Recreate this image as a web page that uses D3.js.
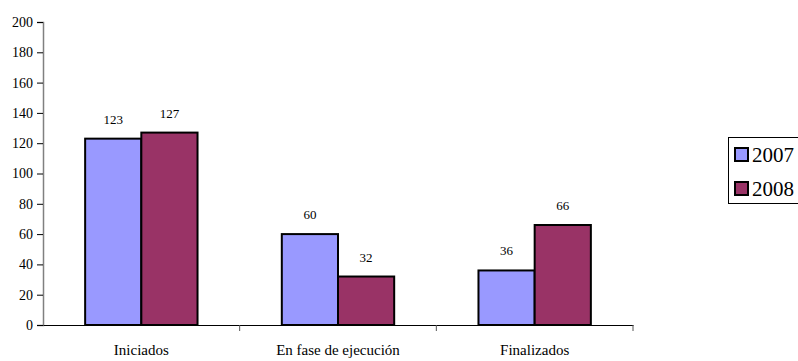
<!DOCTYPE html>
<html lang="es">
  <head>
    <meta charset="utf-8">
    <title>Proyectos 2007 - 2008</title>
    <style type="text/css">
      body{
        margin: 0;
        background: #fff;
      }
    </style>
    <script src="https://cdn.jsdelivr.net/npm/d3@7"></script>
  </head>
  <body>
    <div class="chart"></div>
    <script type="text/javascript">
      //categories on the x axis
      var categories = ["Iniciados", "En fase de ejecución", "Finalizados"];

      //series names and colours
      var series = ["2007", "2008"];
      var colors = ["#9999FF", "#993366"];

      //values per series, in category order
      var values2007 = [123, 60, 36];
      var values2008 = [127, 32, 66];

      //y axis tick labels
      var yTicks = [0, 20, 40, 60, 80, 100, 120, 140, 160, 180, 200];

      var serif = "Liberation Serif";
      var width = 798;
      var height = 361;
      var plot = {left: 43, right: 633, top: 22, bottom: 325};

      var svg = d3.select(".chart")
        .append("svg")
        .attr("width", width)
        .attr("height", height)
        .attr("font-family", serif);

      //scaler for the categories
      var x = d3.scaleBand()
        .domain(categories)
        .range([plot.left, plot.right]);

      //scaler for the bars inside each category (gap width 150%)
      var bw = x.bandwidth() / 3.5;
      var xSeries = d3.scaleBand()
        .domain(series)
        .range([0, bw * 2]);

      //scaler for the values
      var y = d3.scaleLinear()
        .domain([0, 200])
        .range([plot.bottom, plot.top]);

      //y axis
      var yAxis = svg.append("g")
        .attr("transform", `translate(${plot.left},0)`)
        .call(d3.axisLeft(y).tickValues(yTicks).tickSize(6).tickPadding(4))
        .attr("font-family", serif)
        .attr("font-size", 14);
      yAxis.select(".domain").attr("stroke", "#808080").attr("stroke-width", 1.5);
      yAxis.selectAll(".tick line").attr("stroke", "#000");
      yAxis.selectAll("text").attr("fill", "#000");

      //x axis
      var xAxis = svg.append("g")
        .attr("transform", `translate(0,${plot.bottom})`)
        .call(d3.axisBottom(x).tickSize(0).tickPadding(19).tickSizeOuter(0))
        .attr("font-family", serif)
        .attr("font-size", 15);
      xAxis.select(".domain").attr("stroke", "#000");
      xAxis.selectAll("text").attr("fill", "#000");

      //category separators on the x axis
      var seps = [x.range()[0] + x.step(), x.range()[0] + 2 * x.step(), x.range()[1]];
      svg.selectAll(".sep")
        .data(seps)
        .enter()
        .append("line")
        .attr("x1", d => d)
        .attr("x2", d => d)
        .attr("y1", plot.bottom)
        .attr("y2", plot.bottom + 6)
        .attr("stroke", "#555")
        .attr("stroke-width", 1);

      //table of bars built from the arrays
      var data = [];
      categories.forEach(function(c, i){
        data.push({cat: c, s: "2007", v: values2007[i], color: colors[0]});
        data.push({cat: c, s: "2008", v: values2008[i], color: colors[1]});
      });

      var x0 = d => x(d.cat) + (x.bandwidth() - bw * 2) / 2 + xSeries(d.s);

      //bars
      svg.selectAll(".bar")
        .data(data)
        .enter()
        .append("rect")
        .attr("class", "bar")
        .attr("x", x0)
        .attr("y", d => y(d.v))
        .attr("width", xSeries.bandwidth())
        .attr("height", d => y(0) - y(d.v))
        .attr("fill", d => d.color)
        .attr("stroke", "#000")
        .attr("stroke-width", 2);

      //value labels
      svg.selectAll(".lbl")
        .data(data)
        .enter()
        .append("text")
        .attr("class", "lbl")
        .attr("x", d => x0(d) + xSeries.bandwidth() / 2)
        .attr("y", d => y(d.v) - 15)
        .attr("text-anchor", "middle")
        .attr("font-size", 13)
        .text(d => d.v);

      //legend
      var legend = svg.append("g");
      legend.append("rect")
        .attr("x", 728.5)
        .attr("y", 137.5)
        .attr("width", 80)
        .attr("height", 66)
        .attr("fill", "#fff")
        .attr("stroke", "#000")
        .attr("stroke-width", 1);

      var items = legend.selectAll(".item")
        .data(series)
        .enter()
        .append("g")
        .attr("transform", (d, i) => `translate(735,${148 + i * 34})`);
      items.append("rect")
        .attr("width", 13)
        .attr("height", 13)
        .attr("fill", (d, i) => colors[i])
        .attr("stroke", "#000")
        .attr("stroke-width", 2);
      items.append("text")
        .attr("x", 17)
        .attr("y", 7)
        .attr("dy", "0.35em")
        .attr("font-size", 21)
        .text(d => d);
    </script>
  </body>
</html>
